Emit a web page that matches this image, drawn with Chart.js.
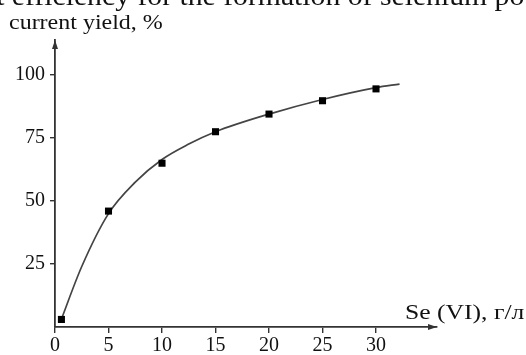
<!DOCTYPE html>
<html>
<head>
<meta charset="utf-8">
<script src="https://cdn.jsdelivr.net/npm/chart.js@4.4.0/dist/chart.umd.min.js"></script>
<style>
  html, body { margin:0; padding:0; background:#fff; overflow:hidden; }
  #wrap { position:relative; width:526px; height:355px; overflow:hidden; }
  .t { position:absolute; font-family:"Liberation Serif","DejaVu Serif",serif; color:#111; white-space:nowrap; transform-origin:0 0; line-height:1; }
  #top { left:-201px; top:-17px; font-size:27px; transform:scaleX(1.1); }
  #ylab { left:9px; top:11px; font-size:22px; transform:scaleX(1.09); }
  #xlab { left:405px; top:302px; font-size:21px; transform:scaleX(1.22); }
  canvas { position:absolute; left:0; top:0; }
</style>
</head>
<body>
<div id="wrap">
  <canvas id="c" width="526" height="355"></canvas>
  <div class="t" id="top">Figure 3. Current efficiency for the formation of selenium powder</div>
  <div class="t" id="ylab">current yield, %</div>
  <div class="t" id="xlab">Se (VI), г/л</div>
</div>
<script>
// Data
const seConc = [0.6, 5, 10, 15, 20, 25, 30];
const currentYield = [3, 46, 65, 77.5, 84.5, 89.8, 94.5];
// Smooth fitted curve
const curveX = [0.5, 2.5, 5, 7.5, 10, 12.5, 15, 20, 25, 30, 32.2];
const curveY = [2, 24, 45, 57.5, 66.5, 72.6, 77.5, 84.5, 90.3, 95, 96.4];
const xTicks = [0, 5, 10, 15, 20, 25, 30];
const yTicks = [25, 50, 75, 100];

const axisColor = '#333';
const arrows = {
  id: 'arrows',
  afterDraw(chart) {
    const a = chart.chartArea, ctx = chart.ctx;
    ctx.save();
    ctx.fillStyle = axisColor;
    ctx.beginPath();
    ctx.moveTo(a.left, a.top);
    ctx.lineTo(a.left - 3, a.top + 9);
    ctx.lineTo(a.left + 3, a.top + 9);
    ctx.closePath(); ctx.fill();
    ctx.beginPath();
    ctx.moveTo(a.right, a.bottom);
    ctx.lineTo(a.right - 9, a.bottom - 3);
    ctx.lineTo(a.right - 9, a.bottom + 3);
    ctx.closePath(); ctx.fill();
    ctx.restore();
  }
};

new Chart(document.getElementById('c'), {
  type: 'scatter',
  data: {
    datasets: [
      {
        data: curveX.map((x, i) => ({x: x, y: curveY[i]})),
        showLine: true,
        borderColor: '#444',
        borderWidth: 1.7,
        pointRadius: 0,
        cubicInterpolationMode: 'monotone',
        order: 2
      },
      {
        data: seConc.map((x, i) => ({x: x, y: currentYield[i]})),
        showLine: false,
        pointStyle: 'rect',
        pointRadius: 5,
        backgroundColor: '#000',
        borderColor: '#000',
        borderWidth: 0,
        order: 1
      }
    ]
  },
  plugins: [arrows],
  options: {
    responsive: false,
    animation: false,
    layout: { padding: { left: 0, top: 40, right: 89, bottom: 0 } },
    plugins: { legend: { display: false }, tooltip: { enabled: false } },
    scales: {
      x: {
        type: 'linear', min: 0, max: 35.7,
        afterBuildTicks: s => { s.ticks = xTicks.map(v => ({value: v})); },
        afterFit: s => { s.height = 28; },
        grid: { drawOnChartArea: false, drawTicks: true, tickLength: 6, color: axisColor, lineWidth: 1.4 },
        border: { color: axisColor, width: 1.8 },
        ticks: { color: '#111', padding: 1, font: { family: 'Liberation Serif', size: 20 }, maxRotation: 0 }
      },
      y: {
        type: 'linear', min: 0, max: 113.9,
        afterBuildTicks: s => { s.ticks = yTicks.map(v => ({value: v})); },
        afterFit: s => { s.width = 55; },
        grid: { drawOnChartArea: false, drawTicks: true, tickLength: 5, color: axisColor, lineWidth: 1.4 },
        border: { color: axisColor, width: 1.8 },
        ticks: { color: '#111', padding: 5, font: { family: 'Liberation Serif', size: 20 } }
      }
    }
  }
});
</script>
</body>
</html>
